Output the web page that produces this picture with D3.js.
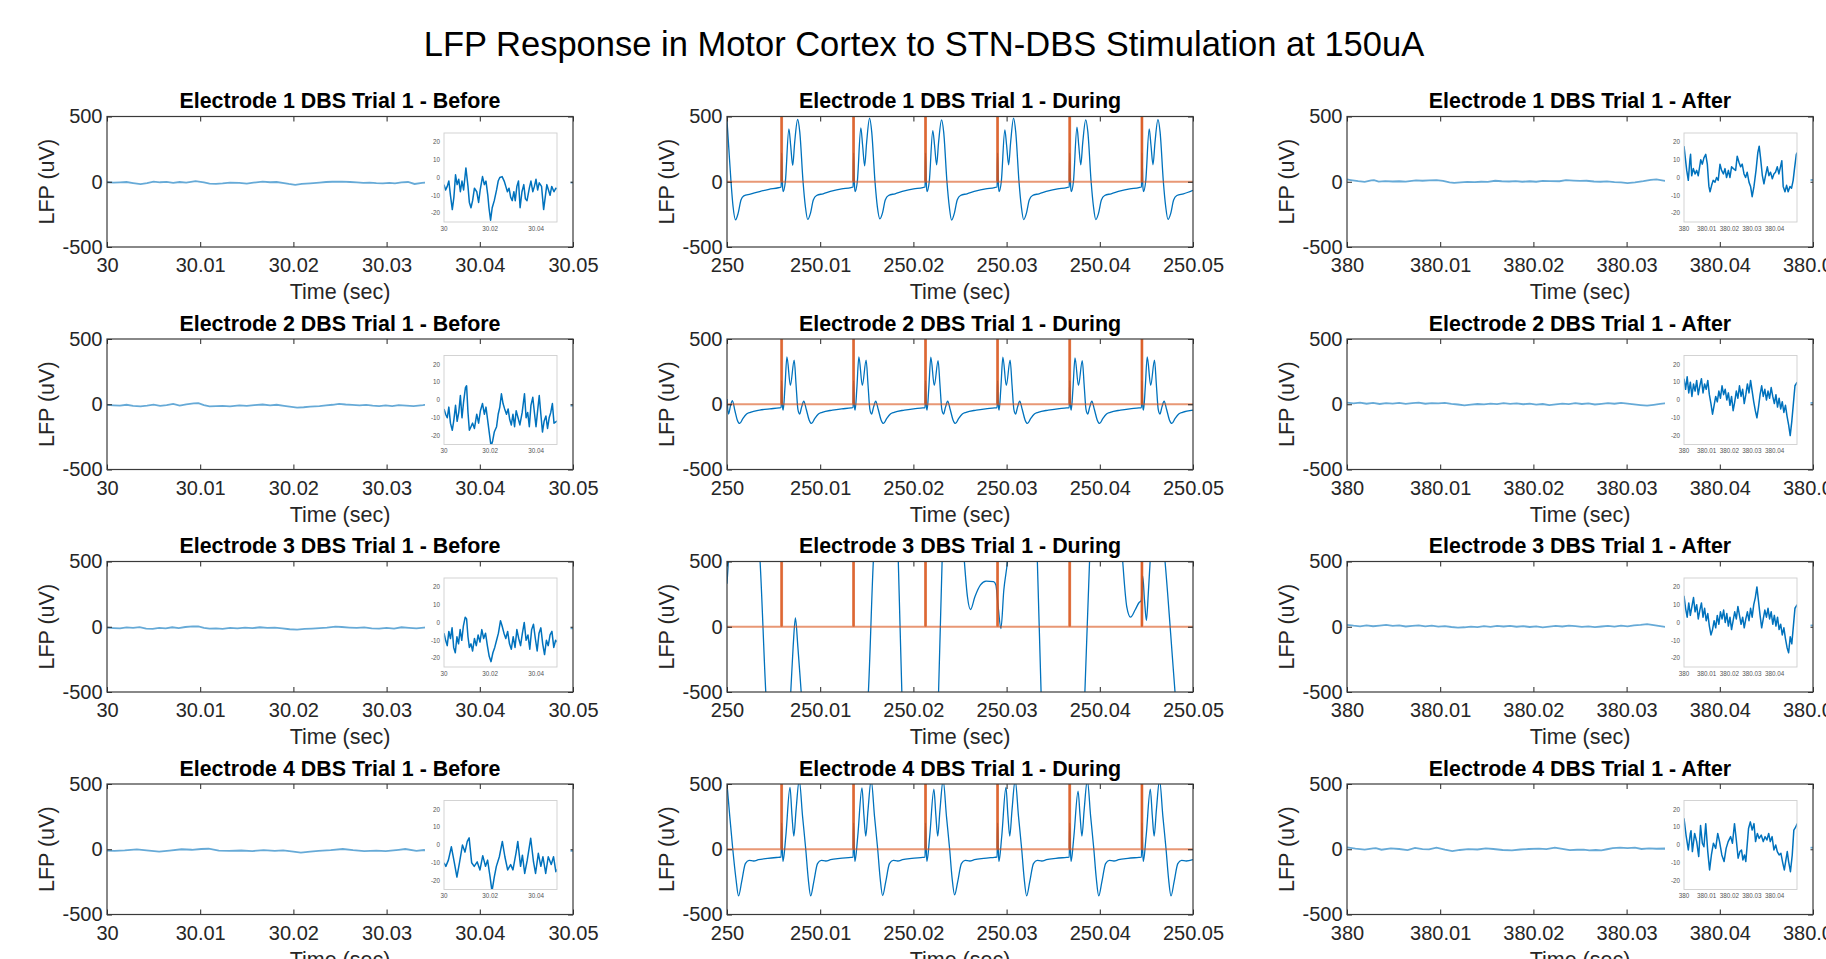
<!DOCTYPE html>
<html>
<head>
<meta charset="utf-8">
<script src="https://cdn.jsdelivr.net/npm/d3@7"></script>
<style>
  html, body { margin: 0; padding: 0; background: #fff; overflow: hidden; }
  svg { display: block; font-family: "Liberation Sans", Arial, sans-serif; }
</style>
</head>
<body>
<div id="chart"></div>
<script>
// ---- data ----
const mainTitle = "LFP Response in Motor Cortex to STN-DBS Stimulation at 150uA";
const electrodes = [1, 2, 3, 4];
const phases = ["Before", "During", "After"];
const windowStart = { Before: 30, During: 250, After: 380 };
const xTickOffsets = [0, 0.01, 0.02, 0.03, 0.04, 0.05];
const xTickLabels = {
  Before: ["30", "30.01", "30.02", "30.03", "30.04", "30.05"],
  During: ["250", "250.01", "250.02", "250.03", "250.04", "250.05"],
  After: ["380", "380.01", "380.02", "380.03", "380.04", "380.05"]
};
const yTicks = [-500, 0, 500];
const insetYTicks = [-20, -10, 0, 10, 20];
const insetXTicks = {
  Before: { values: [30, 30.02, 30.04], labels: ["30", "30.02", "30.04"], domain: [30, 30.049] },
  After: { values: [380, 380.01, 380.02, 380.03, 380.04], labels: ["380", "380.01", "380.02", "380.03", "380.04"], domain: [380, 380.0499] }
};

// stimulation pulses (ms after 250 s)
const stimPulseMs = [5.81, 13.53, 21.25, 28.98, 36.72, 44.47];
const stimWidthMs = 0.1;
const stimPeak = 1500;

// [ms since window start, uV]
const e1Before = [[0,-4],[0.7,-7],[1.4,-5],[2.1,-2],[2.8,-10],[3.6,-18],[4.3,-11],[5.0,1.5],[5.7,-4],[6.4,-1],[7.1,-8],[7.8,-2],[8.5,-7],[9.5,5.4],[10.4,-5],[11.0,-14],[11.7,-17],[12.4,-13],[13.2,-6],[14.2,-8],[15.0,-14],[15.7,-7],[16.7,0.5],[17.5,-4],[18.2,-2],[19.0,-10],[19.5,-17],[20.2,-24],[20.9,-17],[21.8,-13],[22.8,-7],[23.5,-2],[24.2,0],[25.2,0.5],[26.1,-2],[26.8,-5],[27.5,-8],[28.2,-6],[28.9,-11],[29.6,-13],[30.3,-8],[30.9,-13],[31.6,-5],[32.3,-2],[33.0,-17],[33.8,-8],[34.6,-4],[35.3,-12],[36.0,-13],[37.0,-6],[37.7,-2],[38.5,-8],[39.2,-5],[39.9,-1],[40.6,-7],[41.3,-3],[42.3,-5],[43.2,-18],[43.9,-11],[44.6,-4],[45.3,-7],[46.0,-10],[46.7,-5],[47.7,-8],[48.5,-6],[50,-7]];
const e2Before = [[0,-5],[0.7,-8],[1.4,-10],[2.1,-4],[2.8,-13],[3.6,-17],[4.3,-11],[5.0,-3],[5.7,-12],[6.4,-7],[7.1,2.5],[7.8,-10],[8.5,-1],[9.3,7],[9.8,8],[10.4,-7],[11.0,-17],[11.7,-15],[12.4,-13],[13.2,-16],[14.2,-8],[15.0,-13],[15.8,-6],[16.7,-2],[17.5,-8],[18.2,-4],[19.0,-12],[19.6,-18],[20.4,-26],[21.1,-23],[21.8,-18],[22.8,-15],[23.5,-8],[24.2,-4],[24.9,3.5],[25.6,-2],[26.3,-5],[27.1,-8],[27.8,-5],[28.5,-11],[29.2,-14],[29.9,-8],[30.6,-15],[31.3,-6],[32.1,-10],[32.9,-14],[33.9,-7],[34.9,3.5],[35.6,-10],[36.3,-7],[37.0,-15],[37.7,-3],[38.5,1.5],[39.2,-7],[39.9,-15],[40.6,-6],[41.3,2.5],[42.0,-8],[42.7,-18],[43.4,-12],[44.2,-9],[44.9,-16],[45.6,-10],[46.3,-7],[47.0,-2],[47.7,-13],[50,-11]];
const e3Before = [[0,-6],[0.7,-10],[1.4,-13],[2.1,-5],[2.8,-9],[3.5,-3],[4.2,-14],[4.9,-17],[5.6,-8],[6.3,-12],[7.0,-4],[7.7,-10],[8.4,-2],[9.2,3],[9.8,2],[10.4,-8],[11.0,-14],[11.7,-12],[12.4,-16],[13.2,-9],[14.0,-13],[14.8,-7],[15.6,-11],[16.4,-4],[17.2,-9],[18.0,-6],[18.8,-13],[19.6,-19],[20.4,-22],[21.2,-17],[22.0,-14],[22.8,-10],[23.6,-6],[24.5,1],[25.2,-2],[26.0,-6],[26.8,-9],[27.6,-5],[28.4,-12],[29.2,-15],[30.0,-8],[30.8,-14],[31.6,-4],[32.4,-9],[33.2,-13],[34.0,-6],[34.8,0],[35.6,-10],[36.4,-7],[37.2,-15],[38.0,-4],[38.8,-1],[39.6,-9],[40.4,-16],[41.2,-6],[42.0,-3],[42.8,-12],[43.6,-18],[44.4,-10],[45.2,-13],[46.0,-7],[46.8,-5],[47.6,-14],[48.4,-10],[50,-12]];
const e4Before = [[0,-10],[0.8,-12],[1.9,-8.5],[3.2,-1],[4.5,-10],[5.6,-18],[6.7,-10],[8.0,0],[9.1,-4],[10.1,2],[10.9,4],[12.0,-10],[13.1,-12],[14.4,-9.5],[15.6,-14],[16.8,-6],[18.0,-12],[18.9,-8.5],[20.0,-18],[20.8,-26],[21.8,-18],[22.7,-12],[24.0,-6.6],[25.3,2],[26.4,-6.6],[27.6,-14],[28.9,-11],[29.9,-14],[31.3,-4],[32.0,2],[33.2,-12],[34.0,-5.7],[35.0,-16],[36.1,-8.5],[37.6,3.8],[38.8,-9.4],[39.7,-16],[40.9,-4.7],[42.0,-12],[42.9,-6.6],[44.1,-16],[45.2,-6.6],[46.5,-11],[47.5,-6.6],[48.5,-15],[50,-12]];

const e1After = [[0,17.6],[0.4,13],[1.2,4],[1.9,-1.6],[2.6,10],[2.9,13],[3.4,1],[4.1,5],[4.9,2],[5.6,4],[6.3,1],[7.4,10],[8.1,7.5],[8.8,11],[9.6,13],[10.3,7.5],[11.0,-5],[11.5,-8],[12.2,-4.4],[12.9,-1.6],[13.7,-2.6],[14.4,0],[15.1,-1.6],[15.9,7.5],[16.6,4],[17.4,2],[18.1,5],[18.8,0],[19.6,4],[20.3,0],[21.0,6],[21.8,5],[22.8,4],[23.5,12],[24.3,8.4],[25.0,6],[25.7,7.5],[26.5,2],[27.2,0],[27.9,3],[28.7,-2.6],[29.4,-5],[30.1,-10.8],[30.9,-5],[31.8,4],[32.6,14],[33.2,17.6],[33.8,11],[34.6,1],[35.3,-3.5],[36.0,1],[36.8,6],[37.5,1],[38.2,3],[39.0,-0.7],[39.7,2],[40.4,3],[41.2,6],[41.9,2],[42.6,6],[43.2,9.4],[43.8,-5],[44.6,-8],[45.3,-4.4],[46.0,-8],[46.8,-5],[47.5,-6],[48.2,-1.6],[48.8,5],[49.6,13],[50,14]];
const e2After = [[0,12],[0.7,6],[1.4,13],[2.1,4],[2.8,10],[3.5,2],[4.2,9],[4.9,5],[5.6,11],[6.3,3],[7.0,8],[7.7,12],[8.4,4],[9.1,9],[9.8,6],[10.5,11],[11.2,3],[11.9,-2],[12.6,-8],[13.3,-3],[14.0,2],[14.7,-1],[15.4,5],[16.1,1],[16.8,8],[17.5,3],[18.2,6],[18.9,0],[19.6,4],[20.3,-3],[21.0,2],[21.7,-6],[22.4,-1],[23.1,5],[23.8,1],[24.5,8],[25.2,2],[25.9,6],[26.6,-2],[27.3,3],[28.0,9],[28.7,4],[29.4,11],[30.1,5],[30.8,-1],[31.5,-6],[32.2,-10],[32.9,-4],[33.6,3],[34.3,8],[35.0,2],[35.7,6],[36.4,0],[37.1,5],[37.8,1],[38.5,7],[39.2,2],[39.9,-2],[40.6,3],[41.3,-4],[42.0,1],[42.7,-5],[43.4,-1],[44.1,-7],[44.8,-3],[45.5,-9],[46.2,-14],[46.9,-20],[47.6,-12],[48.3,-2],[49.0,8],[50,10]];
const e3After = [[0,15],[0.7,8],[1.4,3],[2.1,11],[2.8,4],[3.5,9],[4.2,14],[4.9,6],[5.6,10],[6.3,2],[7.0,7],[7.7,11],[8.4,3],[9.1,8],[9.8,1],[10.5,5],[11.2,-2],[11.9,-7],[12.6,-4],[13.3,1],[14.0,-3],[14.7,4],[15.4,-1],[16.1,6],[16.8,2],[17.5,7],[18.2,0],[18.9,5],[19.6,-2],[20.3,3],[21.0,-4],[21.7,1],[22.4,6],[23.1,2],[23.8,9],[24.5,4],[25.2,-1],[25.9,3],[26.6,-3],[27.3,2],[28.0,6],[28.7,1],[29.4,8],[30.1,3],[30.8,10],[31.5,14],[32.2,20],[32.9,12],[33.6,4],[34.3,-3],[35.0,2],[35.7,7],[36.4,3],[37.1,8],[37.8,2],[38.5,6],[39.2,-1],[39.9,4],[40.6,-2],[41.3,3],[42.0,-4],[42.7,-1],[43.4,-7],[44.1,-3],[44.8,-9],[45.5,-14],[46.2,-17],[46.9,-8],[47.6,-12],[48.3,-2],[49.0,8],[50,10]];
const e4After = [[0,15],[0.9,5.6],[1.9,-2.8],[2.8,6.5],[3.1,8],[3.7,-3.7],[4.7,6.5],[5.6,1.9],[6.5,-6.5],[7.3,11],[8.1,1],[8.8,-1],[9.6,12],[10.5,-3.7],[11.3,-14],[12.1,-5.6],[13.0,1],[14.0,-1.9],[14.9,6.5],[15.7,1.9],[16.7,-5.6],[17.7,-9.3],[18.6,-1.9],[19.5,1.9],[20.6,4.7],[21.4,1],[22.3,12],[23.1,2.8],[23.9,-7.4],[24.7,-3.7],[25.4,-2.8],[26.0,-8.4],[26.7,-5.6],[27.3,-9.3],[27.9,0],[28.5,9.3],[29.3,13],[30.1,8.4],[30.9,12],[31.6,1.9],[32.4,6.5],[33.2,3.7],[34.1,5.6],[35.0,1.9],[35.8,4.7],[36.6,2.8],[37.4,6.5],[38.1,1.9],[38.9,4.7],[39.7,-2.8],[40.5,0],[41.2,-3.7],[42.0,-5.6],[42.8,-4.7],[43.6,-10],[44.3,-14],[45.0,-8.4],[45.6,-3.7],[46.2,-9.3],[47.0,-15],[47.8,-5.6],[48.5,8.4],[49.3,10],[50,12]];

const e1During = [[0,470],[0.2,250],[0.43,0],[0.65,-190],[0.92,-292],[1.2,-240],[1.5,-140],[1.8,-108],[2.5,-95],[3.5,-75],[4.5,-58],[5.5,-46],
  [5.81,-40],[5.86,220],[5.96,-30],[6.03,-75],[6.26,0],[6.64,405],[6.83,280],[7.05,125],[7.26,300],[7.58,477],[7.81,380],[8.16,0],[8.41,-190],[8.66,-289],[8.96,-240],[9.26,-140],[9.61,-105],[10.31,-92],[11.31,-70],[12.31,-55],[13.3,-45],
  [13.53,-40],[13.58,220],[13.68,-30],[13.75,-75],[13.98,0],[14.36,412],[14.55,280],[14.77,122],[14.98,300],[15.3,487],[15.53,380],[15.88,0],[16.13,-190],[16.4,-284],[16.68,-240],[16.98,-140],[17.33,-105],[18.03,-92],[19.03,-70],[20.03,-55],[21.0,-45],
  [21.25,-40],[21.3,220],[21.4,-30],[21.47,-75],[21.7,0],[22.08,392],[22.27,280],[22.49,130],[22.7,300],[23.02,474],[23.25,380],[23.6,0],[23.85,-190],[24.1,-294],[24.4,-240],[24.7,-140],[25.05,-105],[25.75,-92],[26.75,-70],[27.75,-55],[28.7,-45],
  [28.98,-40],[29.03,220],[29.13,-30],[29.2,-75],[29.43,0],[29.81,397],[30.0,280],[30.22,130],[30.43,300],[30.75,487],[30.98,380],[31.33,0],[31.58,-190],[31.83,-290],[32.13,-240],[32.43,-140],[32.78,-105],[33.48,-92],[34.48,-70],[35.48,-55],[36.45,-45],
  [36.72,-40],[36.77,220],[36.87,-30],[36.94,-75],[37.17,0],[37.55,418],[37.74,280],[37.96,130],[38.17,300],[38.49,474],[38.72,380],[39.07,0],[39.32,-190],[39.57,-290],[39.87,-240],[40.17,-140],[40.52,-105],[41.22,-92],[42.22,-70],[43.22,-55],[44.2,-45],
  [44.47,-40],[44.52,220],[44.62,-30],[44.69,-75],[44.92,0],[45.3,405],[45.49,280],[45.71,130],[45.92,300],[46.24,476],[46.47,380],[46.82,0],[47.07,-190],[47.32,-289],[47.62,-240],[47.92,-140],[48.27,-105],[48.97,-92],[50,-65]];
const e2During = [[0,40],[0.16,-75],[0.38,-10],[0.58,28],[0.85,-50],[1.1,-120],[1.36,-147],[1.7,-110],[2.1,-75],[2.5,-62],[3.5,-45],[4.6,-35],[5.6,-28],
  [5.81,-25],[5.86,180],[5.96,-20],[6.03,-45],[6.21,120],[6.43,363],[6.8,144],[7.21,338],[7.41,150],[7.61,-40],[7.79,-75],[8.01,-20],[8.24,23],[8.51,-40],[8.81,-120],[9.07,-147],[9.41,-110],[9.81,-75],[10.21,-62],[11.31,-45],[12.31,-35],[13.3,-28],
  [13.53,-25],[13.58,180],[13.68,-20],[13.75,-45],[13.93,120],[14.15,363],[14.52,144],[14.93,338],[15.13,150],[15.33,-40],[15.51,-75],[15.73,-20],[15.96,23],[16.23,-40],[16.53,-120],[16.79,-147],[17.13,-110],[17.53,-75],[17.93,-62],[19.03,-45],[20.03,-35],[21.0,-28],
  [21.25,-25],[21.3,180],[21.4,-20],[21.47,-45],[21.65,120],[21.87,360],[22.24,144],[22.65,335],[22.85,150],[23.05,-40],[23.23,-75],[23.45,-20],[23.68,23],[23.95,-40],[24.25,-120],[24.51,-147],[24.85,-110],[25.25,-75],[25.65,-62],[26.75,-45],[27.75,-35],[28.7,-28],
  [28.98,-25],[29.03,180],[29.13,-20],[29.2,-45],[29.38,120],[29.6,360],[29.97,144],[30.38,338],[30.58,150],[30.78,-40],[30.96,-75],[31.18,-20],[31.41,23],[31.68,-40],[31.98,-120],[32.24,-147],[32.58,-110],[32.98,-75],[33.38,-62],[34.48,-45],[35.48,-35],[36.45,-28],
  [36.72,-25],[36.77,180],[36.87,-20],[36.94,-45],[37.12,120],[37.34,355],[37.71,144],[38.12,335],[38.32,150],[38.52,-40],[38.7,-75],[38.92,-20],[39.15,23],[39.42,-40],[39.72,-120],[39.98,-147],[40.32,-110],[40.72,-75],[41.12,-62],[42.22,-45],[43.22,-35],[44.2,-28],
  [44.47,-25],[44.52,180],[44.62,-20],[44.69,-45],[44.87,120],[45.09,363],[45.46,144],[45.87,338],[46.07,150],[46.27,-40],[46.45,-75],[46.67,-20],[46.9,23],[47.17,-40],[47.47,-120],[47.73,-147],[48.07,-110],[48.47,-75],[48.87,-62],[50,-45]];
const e3During = [[0,330],[0.2,560],[1.0,1200],[2.0,1500],[3.0,1000],[3.55,500],[4.16,-500],[4.6,-1000],[5.5,-1400],[6.4,-1000],[6.84,-500],[7.1,-150],[7.34,68],[7.6,-150],[7.96,-500],[8.5,-1000],[11.5,-1600],[14.6,-1000],[15.17,-500],[15.7,500],[16.2,1000],[17.0,1200],[17.9,1000],[18.38,500],[18.76,-500],[19.3,-1000],[20.7,-1300],[22.2,-1000],[22.7,-500],[23.08,500],[23.6,1000],[24.4,1100],[25.1,900],[25.47,500],[25.8,230],[26.13,132],[26.6,230],[27.2,320],[27.8,350],[28.6,346],[28.85,320],[29.1,150],[29.39,-14],[29.7,280],[30.09,500],[30.6,1000],[32,1300],[33.0,900],[33.3,500],[33.7,-500],[34.2,-1000],[36.2,-1400],[38.0,-1000],[38.4,-500],[38.9,500],[39.4,1000],[41,1300],[42.1,900],[42.46,500],[42.9,150],[43.3,73],[43.8,130],[44.2,184],[44.45,200],[44.6,390],[44.8,200],[45.0,48],[45.2,250],[45.4,500],[45.8,900],[46.5,850],[47.0,500],[47.6,-50],[48.07,-500],[48.6,-900],[50,-1200]];
const e4During = [[0,500],[0.3,250],[0.62,0],[0.95,-220],[1.24,-358],[1.57,-250],[1.97,-110],[2.37,-85],[2.87,-90],[3.37,-80],[4.37,-70],[5.5,-62],
  [5.81,-60],[5.86,200],[5.96,-40],[6.01,-93],[6.31,100],[6.76,474],[6.97,260],[7.17,100],[7.41,300],[7.75,530],[8.11,250],[8.45,0],[8.71,-220],[8.98,-358],[9.31,-250],[9.71,-110],[10.11,-85],[10.61,-90],[11.11,-80],[12.11,-70],[13.3,-62],
  [13.53,-60],[13.58,200],[13.68,-40],[13.73,-93],[14.03,100],[14.48,470],[14.69,260],[14.89,100],[15.13,300],[15.47,530],[15.83,250],[16.17,0],[16.43,-220],[16.7,-355],[17.03,-250],[17.43,-110],[17.83,-85],[18.33,-90],[18.83,-80],[19.83,-70],[21.0,-62],
  [21.25,-60],[21.3,200],[21.4,-40],[21.45,-93],[21.75,100],[22.2,460],[22.41,260],[22.61,100],[22.85,300],[23.19,530],[23.55,250],[23.89,0],[24.15,-220],[24.42,-350],[24.75,-250],[25.15,-110],[25.55,-85],[26.05,-90],[26.55,-80],[27.55,-70],[28.7,-62],
  [28.98,-60],[29.03,200],[29.13,-40],[29.18,-93],[29.48,100],[29.93,474],[30.14,260],[30.34,100],[30.58,300],[30.92,530],[31.28,250],[31.62,0],[31.88,-220],[32.15,-358],[32.48,-250],[32.88,-110],[33.28,-85],[33.78,-90],[34.28,-80],[35.28,-70],[36.45,-62],
  [36.72,-60],[36.77,200],[36.87,-40],[36.92,-93],[37.22,100],[37.67,445],[37.88,260],[38.08,100],[38.32,300],[38.66,530],[39.02,250],[39.36,0],[39.62,-220],[39.89,-358],[40.22,-250],[40.62,-110],[41.02,-85],[41.52,-90],[42.02,-80],[43.02,-70],[44.2,-62],
  [44.47,-60],[44.52,200],[44.62,-40],[44.67,-93],[44.97,100],[45.42,460],[45.63,260],[45.83,100],[46.07,300],[46.41,530],[46.77,250],[47.11,0],[47.37,-220],[47.64,-358],[47.97,-250],[48.37,-110],[48.77,-85],[49.27,-90],[50,-80]];

const lfp = {
  Before: [e1Before, e2Before, e3Before, e4Before],
  During: [e1During, e2During, e3During, e4During],
  After: [e1After, e2After, e3After, e4After]
};

// ---- layout ----
const colLeft = [107, 727, 1347];
const rowTop = [116.5, 339, 561.5, 784];
const axW = 466, axH = 130.5;
const blue = "#0072BD", orange = "#D95319", ink = "#262626";

const svg = d3.select("#chart").append("svg")
  .attr("width", 1826)
  .attr("height", 959);

svg.append("text")
  .attr("x", 924)
  .attr("y", 56)
  .attr("text-anchor", "middle")
  .style("font-size", "34.5px")
  .attr("fill", "#000")
  .text(mainTitle);

// stim trace as a step line
const stimTrace = [[0, 0]];
stimPulseMs.forEach(p => {
  stimTrace.push([p, 0], [p, stimPeak], [p + stimWidthMs, stimPeak], [p + stimWidthMs, 0]);
});
stimTrace.push([50, 0]);

electrodes.forEach((el, r) => {
  phases.forEach((ph, c) => {
    const start = windowStart[ph];
    const g = svg.append("g").attr("transform", `translate(${colLeft[c]},${rowTop[r]})`);

    const x = d3.scaleLinear().domain([start, start + 0.05]).range([0, axW]);
    const y = d3.scaleLinear().domain([-500, 500]).range([axH, 0]);
    const line = d3.line()
      .x(d => x(start + d[0] / 1000))
      .y(d => y(d[1]));

    const clipId = `clip-${r}-${c}`;
    g.append("clipPath").attr("id", clipId)
      .append("rect").attr("width", axW).attr("height", axH);
    const plot = g.append("g").attr("clip-path", `url(#${clipId})`);

    if (ph === "During") {
      plot.append("path")
        .datum(lfp[ph][r])
        .attr("fill", "none")
        .attr("stroke", blue)
        .attr("stroke-width", 1.3)
        .attr("d", line.curve(d3.curveMonotoneX));

      plot.append("path")
        .datum(stimTrace)
        .attr("fill", "none")
        .attr("stroke", orange)
        .attr("stroke-opacity", 0.6)
        .attr("stroke-width", 2)
        .attr("d", line.curve(d3.curveLinear));

      plot.selectAll(".pulse")
        .data(stimPulseMs)
        .join("path")
        .attr("class", "pulse")
        .attr("fill", "none")
        .attr("stroke", orange)
        .attr("stroke-opacity", 0.85)
        .attr("stroke-width", 1)
        .attr("d", p => line([[p, 0], [p, stimPeak], [p + stimWidthMs, stimPeak], [p + stimWidthMs, 0]]));
    } else {
      plot.append("path")
        .datum(lfp[ph][r])
        .attr("fill", "none")
        .attr("stroke", blue)
        .attr("stroke-opacity", 0.6)
        .attr("stroke-width", 1.8)
        .attr("d", line.curve(d3.curveLinear));
    }

    // axes, ticks pointing inward
    const xb = g.append("g")
      .attr("transform", `translate(0,${axH})`)
      .call(d3.axisBottom(x)
        .tickValues(xTickOffsets.map(o => start + o))
        .tickFormat((d, i) => xTickLabels[ph][i])
        .tickSizeInner(-5).tickSizeOuter(0).tickPadding(11));
    const xt = g.append("g")
      .call(d3.axisTop(x)
        .tickValues(xTickOffsets.map(o => start + o))
        .tickFormat("")
        .tickSizeInner(-5).tickSizeOuter(0));
    const yl = g.append("g")
      .call(d3.axisLeft(y)
        .tickValues(yTicks)
        .tickFormat(d => String(d))
        .tickSizeInner(-5).tickSizeOuter(0).tickPadding(4.5));
    const yr = g.append("g")
      .attr("transform", `translate(${axW},0)`)
      .call(d3.axisRight(y)
        .tickValues(yTicks)
        .tickFormat("")
        .tickSizeInner(-5).tickSizeOuter(0));

    [xb, xt, yl, yr].forEach(a => {
      a.select(".domain").remove();
      a.selectAll("line").attr("stroke", ink);
      a.selectAll("text")
        .attr("fill", ink)
        .style("font-size", "20px")
        .style("font-family", "'Liberation Sans', Arial, sans-serif");
    });

    g.append("rect")
      .attr("width", axW)
      .attr("height", axH)
      .attr("fill", "none")
      .attr("stroke", "#3a3a3a")
      .attr("stroke-width", 1.2);

    g.append("text")
      .attr("x", axW / 2)
      .attr("y", -8.5)
      .attr("text-anchor", "middle")
      .style("font-size", "21.4px")
      .style("font-weight", "bold")
      .attr("fill", "#000")
      .text(`Electrode ${el} DBS Trial 1 - ${ph}`);

    g.append("text")
      .attr("x", axW / 2)
      .attr("y", axH + 52)
      .attr("text-anchor", "middle")
      .style("font-size", "21.5px")
      .attr("fill", ink)
      .text("Time (sec)");

    g.append("text")
      .attr("transform", `translate(-53,${axH / 2}) rotate(-90)`)
      .attr("text-anchor", "middle")
      .style("font-size", "21.5px")
      .attr("fill", ink)
      .text("LFP (uV)");

    if (ph !== "During") drawInset(g, lfp[ph][r], ph, start, `${r}-${c}`);
  });
});

function drawInset(g, series, ph, start, key) {
  const ix = 337, iy = 16.5, iw = 113, ih = 89;
  const spec = insetXTicks[ph];

  // white backing of the inset
  g.append("rect")
    .attr("x", 318)
    .attr("y", 6)
    .attr("width", axW - 320.5)
    .attr("height", axH - 12)
    .attr("fill", "#fff");

  const ig = g.append("g").attr("transform", `translate(${ix},${iy})`);
  const x = d3.scaleLinear().domain(spec.domain).range([0, iw]);
  const y = d3.scaleLinear().domain([-25, 25]).range([ih, 0]);

  const clipId = `iclip-${key}`;
  ig.append("clipPath").attr("id", clipId)
    .append("rect").attr("width", iw).attr("height", ih);

  ig.append("g")
    .attr("clip-path", `url(#${clipId})`)
    .append("path")
    .datum(series)
    .attr("fill", "none")
    .attr("stroke", blue)
    .attr("stroke-width", 1.5)
    .attr("stroke-linejoin", "round")
    .attr("d", d3.line().x(d => x(start + d[0] / 1000)).y(d => y(d[1])));

  ig.append("rect")
    .attr("width", iw)
    .attr("height", ih)
    .attr("fill", "none")
    .attr("stroke", "#cfcfcf")
    .attr("stroke-width", 0.9);

  ig.selectAll(".iy")
    .data(insetYTicks)
    .join("text")
    .attr("class", "iy")
    .attr("x", -4)
    .attr("y", d => y(d) + 2.2)
    .attr("text-anchor", "end")
    .style("font-size", "6.3px")
    .attr("fill", "#555")
    .text(d => String(d));

  ig.selectAll(".ix")
    .data(spec.values)
    .join("text")
    .attr("class", "ix")
    .attr("x", d => x(d))
    .attr("y", ih + 8.5)
    .attr("text-anchor", "middle")
    .style("font-size", "6.3px")
    .attr("fill", "#555")
    .text((d, i) => spec.labels[i]);
}
</script>
</body>
</html>
